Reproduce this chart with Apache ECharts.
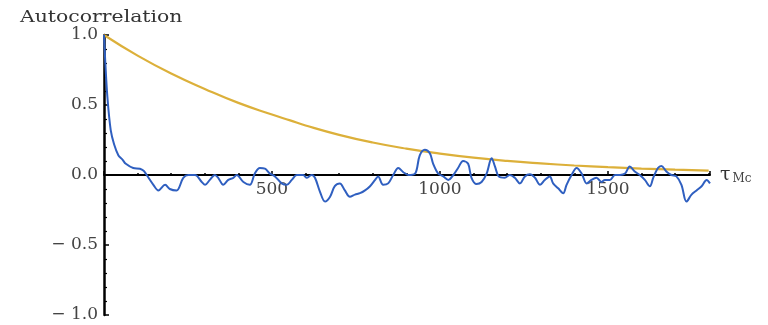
<!DOCTYPE html>
<html>
<head>
<meta charset="utf-8">
<script src="https://cdn.jsdelivr.net/npm/echarts@6/dist/echarts.min.js"></script>
<style>
html,body{margin:0;padding:0;background:#fff;}
#chart{width:768px;height:325px;}
</style>
</head>
<body>
<div id="chart"></div>
<script>
// Blue series: empirical autocorrelation vs lag tau_Mc
var blueTau = [0,4,10,20,30,43,55,65,87,107,118,127,147,162,182,196,216,236,251,271,291,301,315,330,340,355,370,385,395,415,434,449,464,479,494,509,529,544,559,574,593,603,618,628,643,658,673,687,702,717,732,747,762,777,792,807,816,831,846,861,876,891,906,926,940,955,970,980,995,1010,1025,1040,1054,1069,1084,1094,1109,1124,1139,1154,1164,1175,1193,1208,1223,1238,1253,1268,1283,1298,1312,1327,1337,1352,1367,1377,1392,1407,1422,1437,1451,1466,1481,1491,1506,1521,1536,1551,1565,1580,1595,1610,1625,1635,1649,1659,1674,1689,1704,1719,1734,1749,1764,1779,1794,1804];
var blueAcf = [1.0,0.80,0.56,0.32,0.22,0.14,0.11,0.08,0.05,0.045,0.03,0.0,-0.07,-0.11,-0.07,-0.10,-0.11,-0.02,0.0,0.0,-0.05,-0.07,-0.035,0.0,-0.02,-0.07,-0.035,-0.02,0.0,-0.05,-0.07,0.01,0.05,0.045,0.01,-0.01,-0.06,-0.07,-0.035,0.0,0.0,-0.02,0.0,-0.02,-0.12,-0.19,-0.155,-0.08,-0.06,-0.11,-0.155,-0.14,-0.13,-0.11,-0.08,-0.035,-0.01,-0.07,-0.06,0.0,0.05,0.02,0.0,0.01,0.14,0.18,0.155,0.08,0.01,-0.01,-0.035,0.0,0.05,0.10,0.08,-0.02,-0.065,-0.05,0.01,0.12,0.06,-0.01,-0.02,0.0,-0.02,-0.06,-0.01,0.005,-0.02,-0.07,-0.035,-0.01,-0.06,-0.095,-0.13,-0.07,0.0,0.05,0.01,-0.06,-0.035,-0.02,-0.05,-0.035,-0.035,0.0,0.0,0.01,0.06,0.025,0.0,-0.035,-0.08,-0.02,0.05,0.065,0.025,0.0,-0.01,-0.07,-0.19,-0.14,-0.11,-0.08,-0.035,-0.06];
// Yellow series: model autocorrelation
var yellowTau = [0,100,200,300,400,500,554,600,700,800,900,1000,1100,1200,1300,1400,1500,1600,1700,1800];
var yellowAcf = [1.0,0.853,0.725,0.615,0.515,0.432,0.39,0.354,0.287,0.232,0.188,0.153,0.124,0.101,0.083,0.068,0.056,0.046,0.038,0.031];
// Axis settings
var xMax = 1804;
var xMajor = 500;
var yTicks = [-1.0,-0.5,0.0,0.5,1.0];

function pairs(xs, ys){ var out=[]; for(var i=0;i<xs.length;i++){ out.push([xs[i], ys[i]]); } return out; }

var labelFont = {fontFamily:'DejaVu Serif', fontSize:17, color:'#444'};
var gridTop = 35, gridBottom = 10, H = 325;
var plotH = H - gridTop - gridBottom;

var chart = echarts.init(document.getElementById('chart'), null, {renderer:'canvas'});
chart.setOption({
  animation:false,
  backgroundColor:'#ffffff',
  grid:{left:104, right:58, top:gridTop, bottom:gridBottom, containLabel:false},
  xAxis:{
    type:'value', min:0, max:xMax, interval:xMajor,
    offset:-plotH/2,
    axisLine:{onZero:false, lineStyle:{color:'#000', width:2}},
    axisTick:{show:true, inside:true, length:4, lineStyle:{color:'#000', width:1.5}},
    minorTick:{show:true, splitNumber:5, length:2, lineStyle:{color:'#000', width:1.5}},
    splitLine:{show:false},
    axisLabel:Object.assign({margin:6, showMaxLabel:false, formatter:function(v){ return (v>0 && v%xMajor===0) ? String(v) : ''; }}, labelFont),
    name:'{t|τ}{s|Mc}',
    nameLocation:'end', nameGap:10,
    nameTextStyle:{rich:{
      t:{fontFamily:'DejaVu Serif', fontSize:19, color:'#333', verticalAlign:'bottom'},
      s:{fontFamily:'DejaVu Serif', fontSize:12, color:'#444', padding:[6,0,0,2], verticalAlign:'bottom'}
    }}
  },
  yAxis:{
    type:'value', min:yTicks[0], max:yTicks[yTicks.length-1], interval:0.5,
    axisLine:{show:true, lineStyle:{color:'#000', width:2.5}},
    axisTick:{show:true, inside:true, length:5, lineStyle:{color:'#000', width:1.5}},
    minorTick:{show:true, splitNumber:5, length:3, lineStyle:{color:'#000', width:1.2}},
    splitLine:{show:false},
    axisLabel:Object.assign({margin:6, formatter:function(v){ var a=Math.abs(v).toFixed(1); return v<0 ? '\u2212 '+a : a; }}, labelFont)
  },
  graphic:[{
    type:'text', left:20, top:9, scaleX:1.2, originX:20,
    style:{text:'Autocorrelation', fontFamily:'DejaVu Serif', fontSize:17, fill:'#333'}
  }],
  series:[
    {type:'line', data:pairs(yellowTau, yellowAcf), smooth:true, showSymbol:false,
     lineStyle:{color:'#dcb03a', width:2.2}, z:2},
    {type:'line', data:pairs(blueTau, blueAcf), smooth:0.35, showSymbol:false,
     lineStyle:{color:'#2f5fc0', width:2}, z:3}
  ]
});
</script>
</body>
</html>
